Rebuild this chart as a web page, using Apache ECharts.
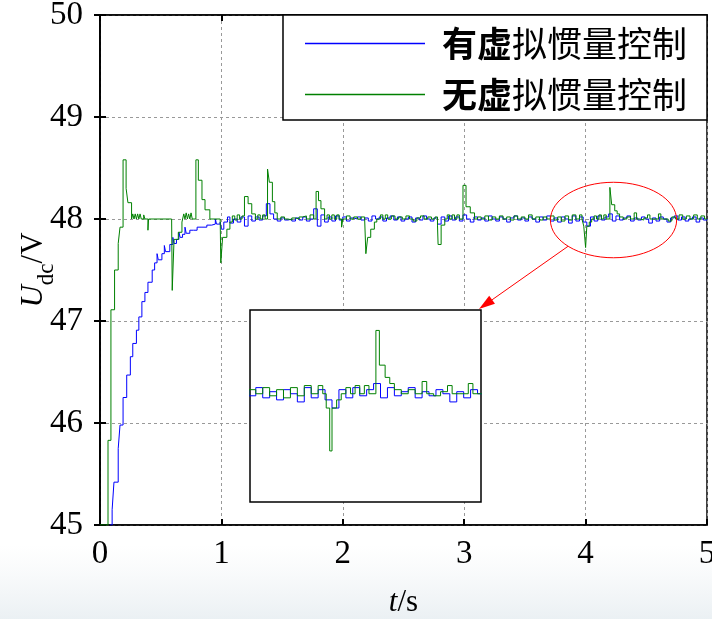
<!DOCTYPE html>
<html>
<head>
<meta charset="utf-8">
<script src="https://cdn.jsdelivr.net/npm/echarts@6/dist/echarts.min.js"></script>
<style>html,body{margin:0;padding:0;background:#fff}#chart{width:712px;height:619px}</style>
</head>
<body>
<div id="chart"></div>
<script>
var xTicks = [0, 1, 2, 3, 4, 5];
var yTicks = [45, 46, 47, 48, 49, 50];
var seriesNames = ['有虚拟惯量控制', '无虚拟惯量控制'];
// 局部放大窗口 (s, V)
var zoomTime = [3.655, 4.655];
var zoomVolt = [47.47, 48.41];

// 有虚拟惯量控制 [t, Udc]
var withInertia = [
  [0.08,45.00],[0.10,45.15],[0.115,45.42],[0.15,45.75],[0.165,45.98],[0.19,46.25],[0.22,46.47],[0.25,46.65],[0.27,46.78],[0.30,46.91],
  [0.32,47.04],[0.345,47.19],[0.37,47.28],[0.395,47.38],[0.43,47.50],[0.45,47.57],[0.47,47.66],[0.48,47.60],[0.51,47.66],[0.53,47.74],
  [0.54,47.68],[0.575,47.75],[0.60,47.82],[0.61,47.76],[0.63,47.80],[0.65,47.87],[0.66,47.82],[0.68,47.85],[0.70,47.92],[0.71,47.86],
  [0.74,47.89],[0.77,47.89],[0.80,47.92],[0.84,47.92],[0.88,47.94],[0.92,47.95],[0.95,48.00],[0.96,47.95],[0.99,47.97],[1.00,47.90],
  [1.02,47.97],[1.05,48.02],[1.07,47.96],[1.10,48.00],[1.13,47.97],[1.16,48.02],[1.19,47.93],[1.22,48.03],[1.25,47.98],[1.28,48.02],
  [1.31,47.99],[1.34,48.03],[1.37,48.15],[1.40,48.05],[1.43,48.00],[1.46,47.98],[1.49,48.01],[1.52,47.99],[1.55,48.00],[1.58,47.98],
  [1.61,48.01],[1.64,47.99],[1.67,48.02],[1.70,47.98],[1.73,48.00],[1.76,48.10],[1.79,47.93],[1.82,48.04],[1.85,47.97],[1.88,48.02],
  [1.91,47.98],[1.94,48.03],[1.97,47.99],[2.00,48.02],[2.03,47.98],[2.06,48.01],[2.09,48.00],[2.12,48.02],[2.15,47.99],[2.18,48.01],
  [2.21,47.98],[2.24,48.03],[2.27,48.00],[2.30,48.02],[2.33,47.98],[2.36,48.01],[2.39,48.03],[2.42,47.99],[2.45,48.02],[2.48,47.98],
  [2.51,48.00],[2.54,48.02],[2.57,47.97],[2.60,48.01],[2.63,47.99],[2.66,48.03],[2.69,48.00],[2.72,47.98],[2.75,48.01],[2.78,47.95],
  [2.81,48.02],[2.84,47.98],[2.87,48.03],[2.90,47.99],[2.93,48.02],[2.96,47.98],[2.99,48.04],[3.02,48.00],[3.05,47.97],[3.08,48.02],
  [3.11,47.99],[3.14,48.01],[3.17,47.98],[3.20,48.03],[3.23,48.00],[3.26,47.98],[3.29,48.02],[3.32,48.00],[3.35,47.97],[3.38,48.01],
  [3.41,48.03],[3.44,47.99],[3.47,48.01],[3.50,47.98],[3.53,48.02],[3.56,48.00],[3.59,47.97],[3.62,48.02],[3.65,47.99],[3.68,48.03],
  [3.71,47.98],[3.74,48.01],[3.77,47.97],[3.80,48.02],[3.83,48.00],[3.86,47.96],[3.89,48.03],[3.92,47.98],[3.95,48.02],[3.98,47.97],
  [4.01,47.93],[4.04,48.02],[4.07,47.98],[4.10,48.03],[4.13,47.99],[4.16,48.02],[4.19,48.05],[4.22,47.98],[4.25,48.03],[4.28,47.99],
  [4.31,48.01],[4.34,48.03],[4.37,47.98],[4.40,48.01],[4.43,47.99],[4.46,48.02],[4.49,48.00],[4.52,47.96],[4.55,48.01],[4.58,47.98],
  [4.61,48.02],[4.64,48.00],[4.67,47.97],[4.70,48.01],[4.73,48.03],[4.76,47.99],[4.79,48.02],[4.82,47.98],[4.85,48.00],[4.88,48.02],
  [4.91,47.97],[4.94,48.01],[4.97,47.99],[5.00,48.00]
];

// 无虚拟惯量控制 [t, Udc]
var withoutInertia = [
  [0.00,45.00],[0.066,45.83],[0.09,47.11],[0.12,47.50],[0.15,47.76],[0.165,47.92],[0.19,48.58],[0.215,48.30],[0.23,48.16],[0.26,48.00],
  [0.27,48.05],[0.28,48.00],[0.29,48.05],[0.30,48.00],[0.31,48.05],[0.32,48.00],[0.33,48.05],[0.34,48.00],[0.36,48.04],[0.37,48.00],
  [0.395,47.89],[0.40,48.00],[0.59,48.00],[0.595,47.30],[0.61,47.80],[0.645,47.87],[0.675,47.97],[0.69,48.05],[0.70,48.00],[0.71,48.06],
  [0.72,48.00],[0.73,48.05],[0.74,48.00],[0.75,48.06],[0.76,48.00],[0.79,48.58],[0.81,48.38],[0.84,48.19],[0.865,48.09],[0.905,48.00],
  [0.99,48.00],[0.995,47.57],[1.01,47.82],[1.045,47.90],[1.07,47.97],[1.09,48.03],[1.11,47.99],[1.13,48.04],[1.15,48.00],[1.17,48.03],
  [1.19,48.22],[1.22,48.15],[1.25,48.05],[1.28,48.00],[1.30,48.04],[1.32,48.00],[1.34,48.04],[1.36,48.00],[1.38,48.49],[1.395,48.36],
  [1.42,48.17],[1.44,48.06],[1.46,48.00],[1.49,48.02],[1.52,48.00],[1.55,47.99],[1.58,48.01],[1.61,48.00],[1.64,48.02],[1.67,48.03],
  [1.70,48.00],[1.73,48.04],[1.76,48.00],[1.78,48.27],[1.80,48.18],[1.82,48.10],[1.85,48.00],[1.87,48.04],[1.89,48.00],[1.91,48.04],
  [1.93,48.00],[1.95,48.04],[1.97,48.00],[1.99,47.92],[2.00,48.00],[2.03,48.03],[2.06,48.00],[2.09,48.02],[2.12,48.00],[2.15,48.02],
  [2.18,48.00],[2.19,47.66],[2.205,47.82],[2.23,47.90],[2.26,47.97],[2.28,48.00],[2.31,48.04],[2.33,48.00],[2.35,48.04],[2.37,48.00],
  [2.40,48.03],[2.43,48.00],[2.46,48.02],[2.49,48.00],[2.52,48.03],[2.55,48.00],[2.58,47.98],[2.61,48.01],[2.64,48.03],[2.67,48.00],
  [2.70,48.02],[2.73,48.00],[2.76,48.02],[2.78,47.94],[2.785,47.75],[2.81,47.94],[2.84,48.00],[2.86,48.04],[2.88,48.00],[2.90,48.04],
  [2.92,48.00],[2.94,48.04],[2.96,48.00],[2.99,48.33],[3.015,48.12],[3.05,48.06],[3.085,48.00],[3.11,48.02],[3.14,48.00],[3.17,48.03],
  [3.20,47.99],[3.23,48.02],[3.26,48.00],[3.29,48.03],[3.32,48.00],[3.35,48.02],[3.38,47.99],[3.41,48.03],[3.44,48.00],[3.47,48.02],
  [3.50,48.00],[3.53,48.04],[3.56,48.00],[3.59,48.02],[3.62,47.99],[3.65,48.02],[3.68,48.00],[3.71,48.03],[3.74,47.99],[3.77,48.02],
  [3.80,47.98],[3.83,48.03],[3.86,47.99],[3.89,48.04],[3.92,48.00],[3.95,48.04],[3.97,48.00],[3.985,47.93],[4.00,47.72],[4.01,47.93],
  [4.03,47.97],[4.05,48.00],[4.07,48.03],[4.09,48.00],[4.11,48.04],[4.13,48.00],[4.15,48.04],[4.17,48.00],[4.20,48.31],[4.215,48.14],
  [4.24,48.08],[4.26,48.05],[4.28,48.02],[4.31,48.00],[4.34,48.02],[4.37,48.00],[4.40,48.06],[4.42,48.00],[4.45,47.99],[4.48,48.01],
  [4.51,48.04],[4.53,48.00],[4.56,48.00],[4.60,48.05],[4.62,48.00],[4.65,48.00],[4.68,47.98],[4.71,48.02],[4.74,48.00],[4.77,48.04],
  [4.80,48.00],[4.83,48.03],[4.86,48.00],[4.89,48.04],[4.92,48.00],[4.95,48.03],[4.98,48.00],[5.00,48.00]
];

var chart = echarts.init(document.getElementById('chart'));
var serif = 'Liberation Serif';
var cjk = 'Noto Sans CJK SC';
var colors = ['#0000ff', '#008000'];

function inZoom(data) {
  return data.filter(function (p) { return p[0] >= zoomTime[0] - 0.1 && p[0] <= zoomTime[1] + 0.1; });
}

function lineSeries(name, data, color, axisIdx, z) {
  return {
    name: name,
    type: 'line',
    step: 'end',
    symbol: 'none',
    xAxisIndex: axisIdx,
    yAxisIndex: axisIdx,
    z: z,
    clip: true,
    lineStyle: { color: color, width: 1 },
    itemStyle: { color: color },
    data: data
  };
}

var tickStyle = { show: true, inside: true, length: 6, lineStyle: { color: '#000', width: 2 } };
var dashed = { show: true, lineStyle: { color: '#999', type: [3, 3], width: 1 } };

option = {
  animation: false,
  backgroundColor: '#fff',
  grid: [
    { left: 100, top: 15, right: 5, bottom: 94, outerBoundsMode: 'none', containLabel: false,
      show: true, borderColor: '#000', borderWidth: 1.5 },
    { left: 250, top: 310, width: 231, height: 192, outerBoundsMode: 'none', containLabel: false,
      show: true, backgroundColor: '#fff', borderColor: '#000', borderWidth: 1.5, z: 3 }
  ],
  legend: {
    data: seriesNames,
    orient: 'vertical',
    right: 5,
    top: 15,
    padding: [11, 20, 8, 22],
    itemGap: 16,
    itemWidth: 120,
    itemHeight: 1.5,
    icon: 'rect',
    backgroundColor: '#fff',
    borderColor: '#000',
    borderWidth: 1.5,
    borderRadius: 0,
    formatter: function (name) {
      return '{b|' + name.slice(0, 2) + '}{n|' + name.slice(2) + '}';
    },
    textStyle: {
      rich: {
        b: { fontSize: 35, fontWeight: 'bold', fontFamily: cjk, color: '#000', padding: [0, 0, 0, 12] },
        n: { fontSize: 35, fontFamily: cjk, color: '#000' }
      }
    }
  },
  xAxis: [
    {
      type: 'value', gridIndex: 0, position: 'bottom', min: xTicks[0], max: xTicks[xTicks.length - 1], interval: 1,
      axisLine: { lineStyle: { color: '#000', width: 1.5 } },
      axisTick: tickStyle,
      splitLine: dashed,
      axisLabel: { fontSize: 33, fontFamily: serif, color: '#000', margin: 13 },
      name: '{i|t}{n|/s}',
      nameLocation: 'middle',
      nameGap: 62,
      nameMoveOverlap: false,
      nameTextStyle: {
        rich: {
          i: { fontSize: 31, fontFamily: serif, fontStyle: 'italic', color: '#000' },
          n: { fontSize: 31, fontFamily: serif, color: '#000' }
        }
      }
    },
    {
      type: 'value', gridIndex: 0, position: 'top', min: 0, max: 5, interval: 1,
      axisLine: { lineStyle: { color: '#000', width: 1.5 } },
      axisTick: tickStyle, axisLabel: { show: false }, splitLine: { show: false }
    },
    { type: 'value', gridIndex: 1, min: zoomTime[0], max: zoomTime[1], show: false, splitLine: { show: false } }
  ],
  yAxis: [
    {
      type: 'value', gridIndex: 0, position: 'left', min: yTicks[0], max: yTicks[yTicks.length - 1], interval: 1,
      axisLine: { show: true, lineStyle: { color: '#000', width: 1.5 } },
      axisTick: tickStyle,
      splitLine: dashed,
      axisLabel: { fontSize: 33, fontFamily: serif, color: '#000', margin: 17 },
      name: '{u|U}{s|dc}{n|/V}',
      nameLocation: 'middle',
      nameGap: 42,
      nameMoveOverlap: false,
      nameTextStyle: {
        rich: {
          u: { fontSize: 31, fontFamily: serif, fontStyle: 'italic', color: '#000', verticalAlign: 'bottom', padding: [0, 0, 9, 0] },
          s: { fontSize: 23, fontFamily: serif, color: '#000', verticalAlign: 'bottom' },
          n: { fontSize: 31, fontFamily: serif, color: '#000', verticalAlign: 'bottom', padding: [0, 0, 9, 0] }
        }
      }
    },
    {
      type: 'value', gridIndex: 0, position: 'right', min: 45, max: 50, interval: 1,
      axisLine: { show: true, lineStyle: { color: '#000', width: 1.5 } },
      axisTick: tickStyle, axisLabel: { show: false }, splitLine: { show: false }
    },
    { type: 'value', gridIndex: 1, min: zoomVolt[0], max: zoomVolt[1], show: false, splitLine: { show: false } }
  ],
  series: [
    lineSeries(seriesNames[0], withInertia, colors[0], 0, 2),
    lineSeries(seriesNames[1], withoutInertia, colors[1], 0, 2),
    lineSeries(seriesNames[0], inZoom(withInertia), colors[0], 2, 4),
    lineSeries(seriesNames[1], inZoom(withoutInertia), colors[1], 2, 4)
  ]
};

chart.setOption(option);

// 红色椭圆与箭头，标出放大区域
var c = chart.convertToPixel({ gridIndex: 0 }, [4.23, 47.99]);
var edge = chart.convertToPixel({ gridIndex: 0 }, [4.75, 48.36]);
var rx = edge[0] - c[0], ry = c[1] - edge[1];
var th = 136 * Math.PI / 180;
var start = [c[0] + rx * Math.cos(th), c[1] + ry * Math.sin(th)];
var corner = chart.convertToPixel({ gridIndex: 1 }, [zoomTime[1], zoomVolt[1]]);
var tip = [corner[0] - 2, corner[1] - 1];
var dx = tip[0] - start[0], dy = tip[1] - start[1];
var len = Math.sqrt(dx * dx + dy * dy);
var ux = dx / len, uy = dy / len;
var base = [tip[0] - ux * 16, tip[1] - uy * 16];

chart.setOption({
  graphic: [
    {
      type: 'rect', z: -10, silent: true,
      shape: { x: 0, y: 545, width: 712, height: 74 },
      style: {
        fill: new echarts.graphic.LinearGradient(0, 0, 0, 1, [
          { offset: 0, color: 'rgba(228,234,238,0)' },
          { offset: 1, color: 'rgba(218,228,234,0.55)' }
        ])
      }
    },
    {
      type: 'ellipse', z: 10, silent: true,
      shape: { cx: c[0], cy: c[1], rx: rx, ry: ry },
      style: { fill: 'none', stroke: '#ff0000', lineWidth: 1 }
    },
    {
      type: 'line', z: 10, silent: true,
      shape: { x1: start[0], y1: start[1], x2: base[0], y2: base[1] },
      style: { stroke: '#ff0000', lineWidth: 1 }
    },
    {
      type: 'polygon', z: 10, silent: true,
      shape: { points: [tip, [base[0] - uy * 5, base[1] + ux * 5], [base[0] + uy * 5, base[1] - ux * 5]] },
      style: { fill: '#ff0000' }
    }
  ]
});
</script>
</body>
</html>
